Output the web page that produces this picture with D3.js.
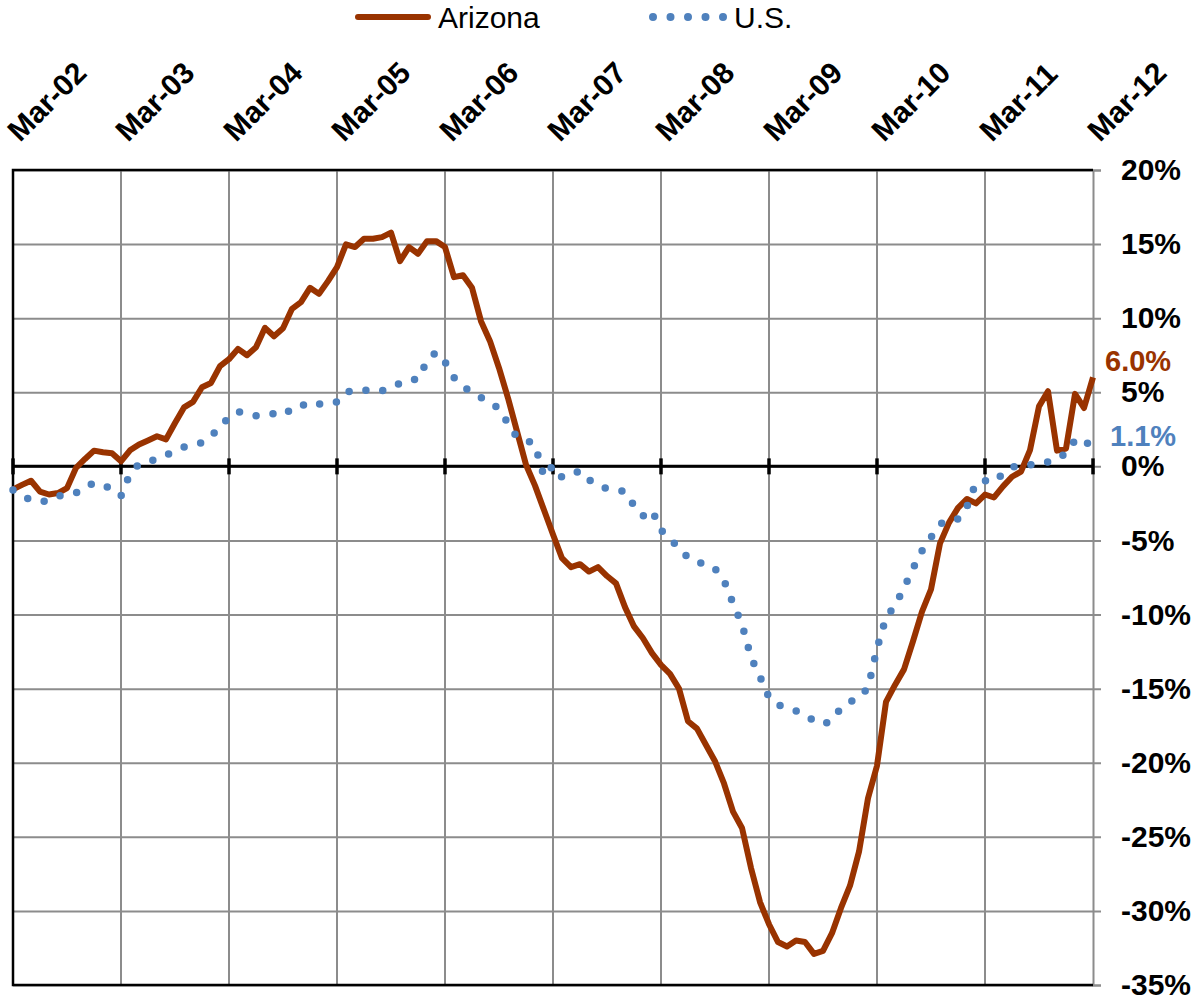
<!DOCTYPE html>
<html>
<head>
<meta charset="utf-8">
<script src="https://cdn.jsdelivr.net/npm/d3@7"></script>
<style>
  body { margin: 0; background: #fff; }
  svg { display: block; font-family: "Liberation Sans", Arial, sans-serif; }
</style>
</head>
<body>
<div id="chart"></div>
<script>
// tick labels along the top (one per March, 12 months apart)
const xLabels = ["Mar-02", "Mar-03", "Mar-04", "Mar-05", "Mar-06", "Mar-07",
                 "Mar-08", "Mar-09", "Mar-10", "Mar-11", "Mar-12"];

// year-over-year % change, monthly from Mar-02 to Mar-12
const azValues = [
  -1.55, -1.25, -0.97, -1.7, -1.9, -1.8, -1.47, -0.1, 0.5, 1.06, 0.95, 0.88,
  0.34, 1.08, 1.48, 1.75, 2.03, 1.82, 2.93, 3.98, 4.35, 5.34, 5.63, 6.76,
  7.23, 7.93, 7.5, 8.04, 9.35, 8.78, 9.32, 10.63, 11.08, 12.05, 11.64, 12.5,
  13.45, 14.98, 14.8, 15.36, 15.36, 15.47, 15.77, 13.85, 14.8, 14.35, 15.2, 15.2,
  14.8, 12.77, 12.9, 12.05, 9.8, 8.45, 6.64, 4.61, 2.36, 0.11, -1.3, -2.95,
  -4.6, -6.2, -6.8, -6.6, -7.1, -6.8, -7.4, -7.9, -9.5, -10.8, -11.6, -12.6,
  -13.4, -14.0, -15.0, -17.2, -17.7, -18.8, -19.9, -21.4, -23.3, -24.4, -27.1, -29.4,
  -30.9, -32.1, -32.4, -32.0, -32.1, -32.9, -32.7, -31.5, -29.8, -28.3, -26.0, -22.4,
  -20.2, -15.9, -14.75, -13.7, -11.8, -9.8, -8.3, -5.2, -3.8, -2.8, -2.2, -2.5,
  -1.9, -2.1, -1.35, -0.7, -0.35, 1.1, 4.05, 5.07, 1.06, 1.2, 4.89, 3.94,
  6.0
];

const usValues = [
  -1.6, -2.0, -2.26, -2.4, -2.3, -2.0, -1.9, -1.8, -1.35, -1.15, -1.2, -1.6,
  -2.0, -0.5, 0.15, 0.3, 0.5, 0.75, 1.05, 1.3, 1.45, 1.6, 2.0, 2.7,
  3.3, 3.7, 3.5, 3.42, 3.5, 3.55, 3.45, 3.9, 4.2, 4.0, 4.2, 4.35,
  4.35, 5.0, 5.15, 5.15, 5.05, 5.1, 5.33, 5.6, 5.86, 5.86, 7.1, 7.7,
  7.05, 6.0, 5.4, 5.0, 4.65, 4.3, 3.9, 2.9, 1.95, 1.8, 1.46, -0.7,
  0.05, -0.75, -0.55, -0.3, -0.9, -1.3, -1.5, -1.6, -1.7, -2.65, -3.35, -2.95,
  -4.3, -4.85, -5.55, -6.15, -6.5, -6.55, -6.9, -7.7, -9.25, -10.65, -12.9, -14.2,
  -15.6, -16.1, -16.3, -16.5, -16.8, -17.15, -17.4, -17.15, -16.3, -15.9, -15.6, -14.95,
  -12.3, -10.2, -9.4, -8.2, -6.9, -5.7, -4.8, -3.9, -3.56, -3.56, -2.7, -1.1,
  -0.97, -1.05, -0.5, -0.05, 0.05, 0.1, 0.15, 0.3, 0.45, 0.9, 1.75, 1.85,
  1.1
];

const yTicks = [20, 15, 10, 5, 0, -5, -10, -15, -20, -25, -30, -35];

const seriesNames = ["Arizona", "U.S."];
const endLabels = ["6.0%", "1.1%"];

const width = 1191, height = 1008;
const plotLeft = 13, plotRight = 1093, plotTop = 170, plotBottom = 985;
const brown = "#993300", blue = "#4F81BD", grid = "#8c8c8c";

const svg = d3.select("#chart").append("svg")
    .attr("width", width)
    .attr("height", height);

const x = d3.scaleLinear().domain([0, azValues.length - 1]).range([plotLeft, plotRight]);
const y = d3.scaleLinear().domain([-35, 20]).range([plotBottom, plotTop]);
const yearIdx = xLabels.map((d, i) => i * 12);

// horizontal gridlines, extended past the right axis as tick marks
svg.append("g")
    .attr("transform", `translate(${plotRight},0)`)
    .call(d3.axisRight(y).tickValues(yTicks).tickSize(8).tickPadding(20)
        .tickFormat(d => d + "%"))
    .call(g => g.select(".domain").attr("stroke", grid).attr("stroke-width", 2))
    .call(g => g.selectAll(".tick line").attr("stroke", grid).attr("stroke-width", 2)
        .attr("x1", -(plotRight - plotLeft)))
    .call(g => g.selectAll(".tick text")
        .attr("fill", "#000")
        .style("font-size", "30px")
        .style("font-weight", "bold"));

// vertical gridlines
svg.append("g")
    .selectAll("line")
    .data(yearIdx.slice(1, -1))
    .join("line")
    .attr("x1", d => x(d)).attr("x2", d => x(d))
    .attr("y1", plotTop).attr("y2", plotBottom)
    .attr("stroke", grid).attr("stroke-width", 2);

// plot frame (top, left, bottom)
svg.append("path")
    .attr("d", `M${plotRight},${plotTop}H${plotLeft}V${plotBottom}H${plotRight}`)
    .attr("fill", "none").attr("stroke", "#000").attr("stroke-width", 2.5);

// zero line with year ticks
svg.append("line")
    .attr("x1", plotLeft).attr("x2", plotRight)
    .attr("y1", y(0)).attr("y2", y(0))
    .attr("stroke", "#000").attr("stroke-width", 3);
svg.append("g")
    .selectAll("line")
    .data(yearIdx)
    .join("line")
    .attr("x1", d => x(d)).attr("x2", d => x(d))
    .attr("y1", y(0) - 8).attr("y2", y(0) + 8)
    .attr("stroke", "#000").attr("stroke-width", 3.5);

// date labels across the top, slanted up to the right
svg.append("g")
    .selectAll("text")
    .data(xLabels)
    .join("text")
    .attr("transform", (d, i) => `translate(${x(yearIdx[i]) + 7},143) rotate(-45)`)
    .style("font-size", "30px")
    .style("font-weight", "bold")
    .text(d => d);

const line = d3.line()
    .x((d, i) => x(i))
    .y(d => y(d));

svg.append("path")
    .datum(azValues)
    .attr("d", line)
    .attr("fill", "none")
    .attr("stroke", brown)
    .attr("stroke-width", 6)
    .attr("stroke-linejoin", "round");

svg.append("path")
    .datum(usValues)
    .attr("d", line)
    .attr("fill", "none")
    .attr("stroke", blue)
    .attr("stroke-width", 7.5)
    .attr("stroke-linecap", "round")
    .attr("stroke-dasharray", "0 17");

// end-of-series value labels
const last = azValues.length - 1;
svg.append("text")
    .attr("x", x(last) + 12).attr("y", y(azValues[last]) - 16)
    .attr("dominant-baseline", "central")
    .attr("fill", brown)
    .style("font-size", "29px").style("font-weight", "bold")
    .text(endLabels[0]);
svg.append("text")
    .attr("x", x(last) + 17).attr("y", y(usValues[last]) - 14)
    .attr("dominant-baseline", "central")
    .attr("fill", blue)
    .style("font-size", "29px").style("font-weight", "bold")
    .text(endLabels[1]);

// legend
const legend = svg.append("g");
legend.append("line")
    .attr("x1", 358).attr("x2", 428).attr("y1", 17).attr("y2", 17)
    .attr("stroke", brown).attr("stroke-width", 6).attr("stroke-linecap", "round");
legend.append("text")
    .attr("x", 438).attr("y", 17).attr("dominant-baseline", "central")
    .style("font-size", "30px").text(seriesNames[0]);
legend.append("line")
    .attr("x1", 653).attr("x2", 724).attr("y1", 17).attr("y2", 17)
    .attr("stroke", blue).attr("stroke-width", 8).attr("stroke-linecap", "round")
    .attr("stroke-dasharray", "0 17.5");
legend.append("text")
    .attr("x", 734).attr("y", 17).attr("dominant-baseline", "central")
    .style("font-size", "30px").text(seriesNames[1]);
</script>
</body>
</html>
